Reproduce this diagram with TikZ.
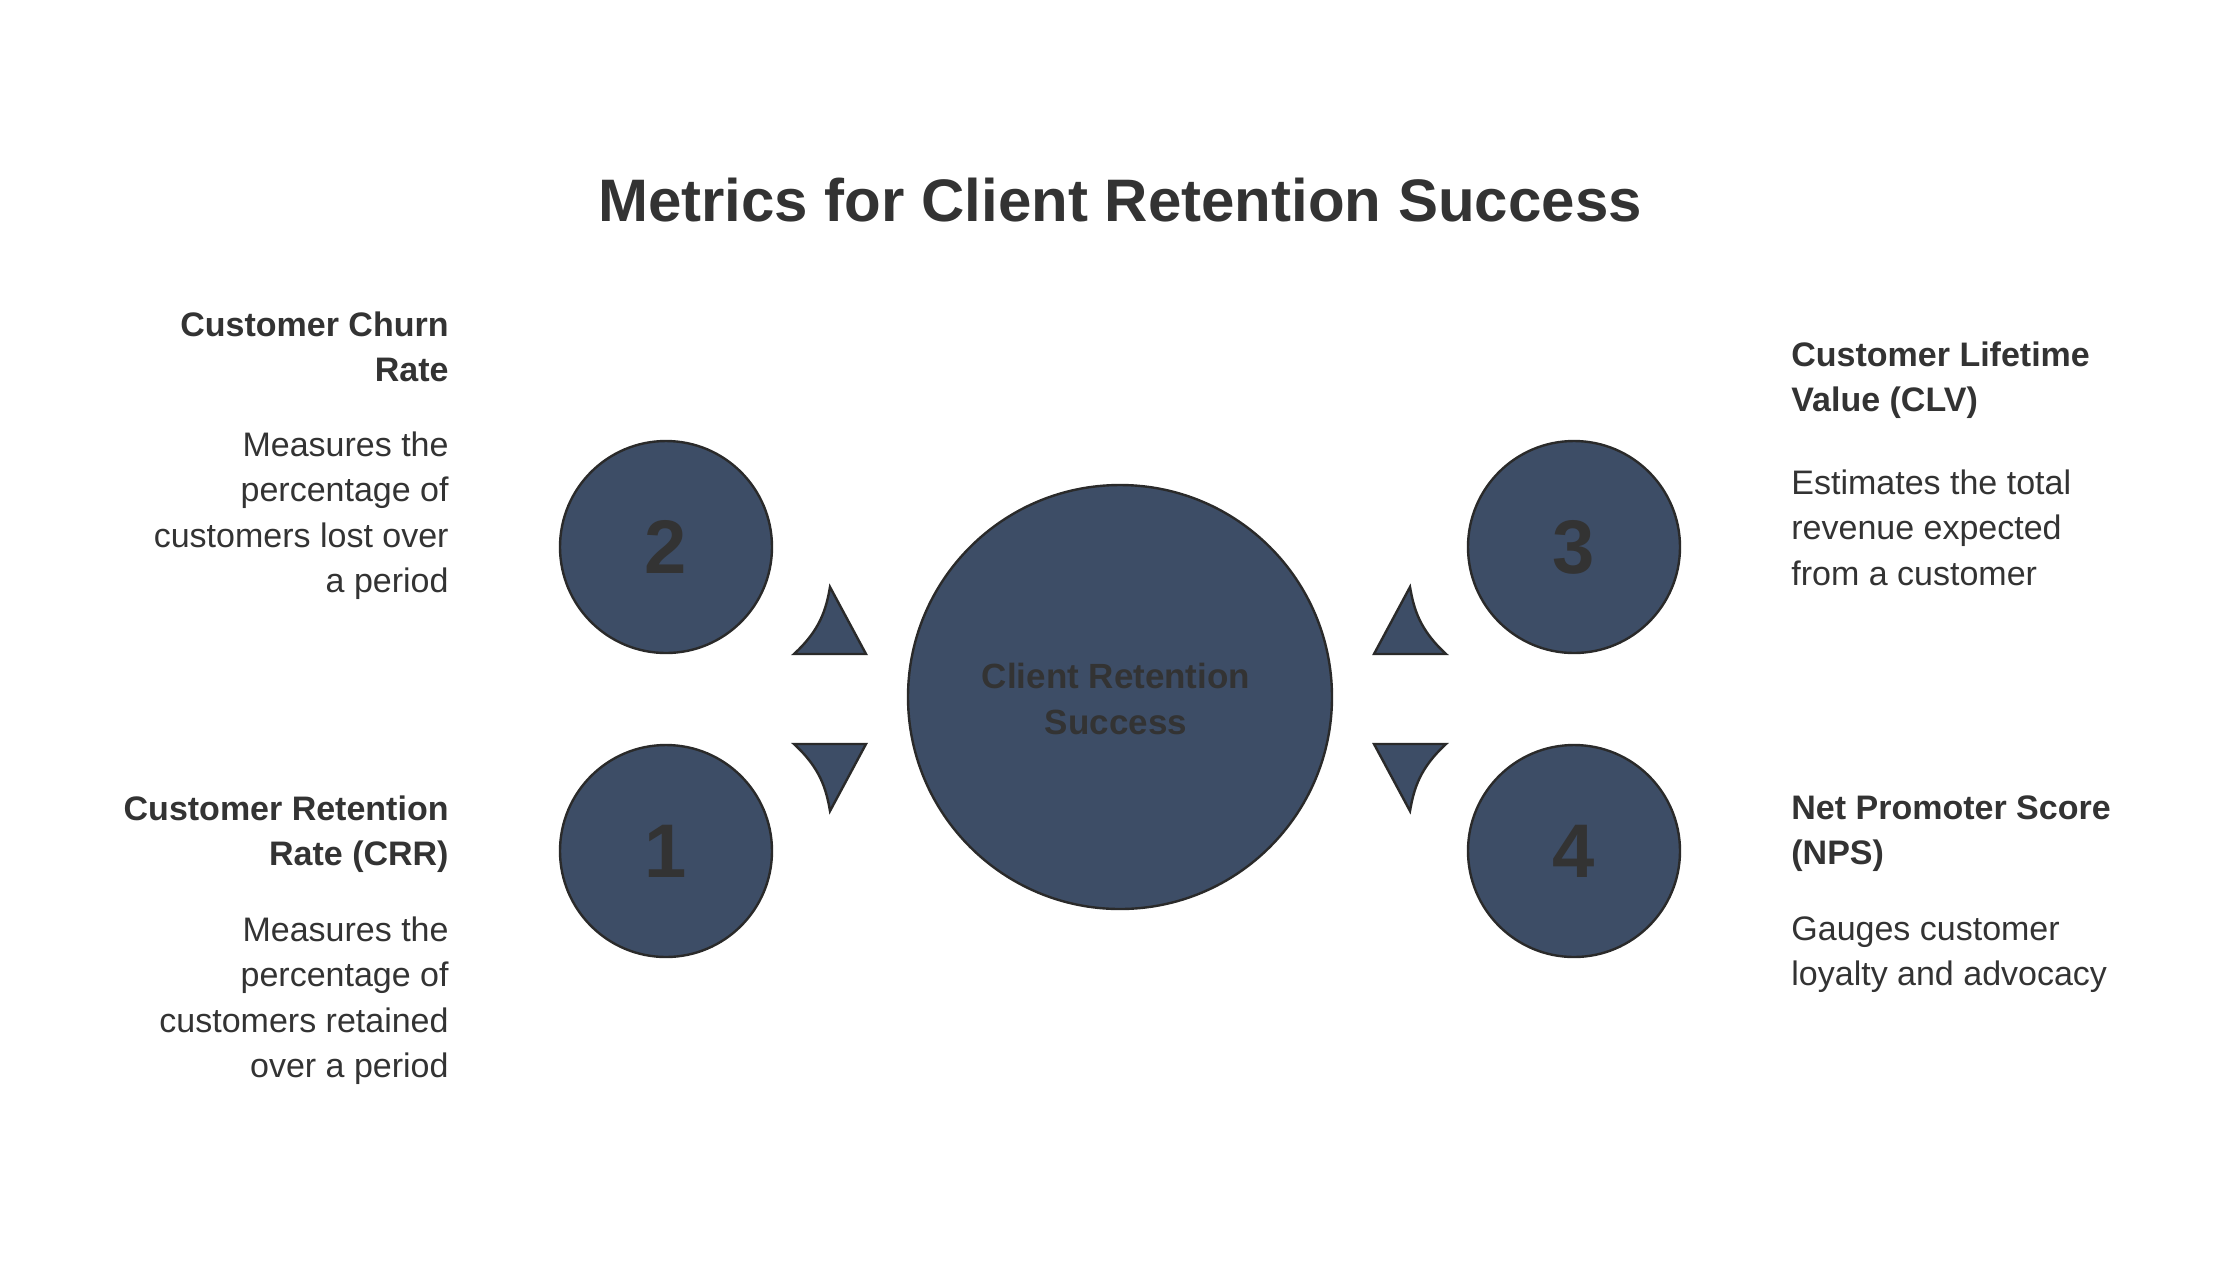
\documentclass[tikz,border=0pt]{standalone}
\usepackage{fontspec}
\setmainfont{Liberation Sans}
\definecolor{fillc}{HTML}{3D4D66}
\definecolor{linec}{HTML}{2A2A2A}
\definecolor{txt}{HTML}{333333}
\begin{document}
\begin{tikzpicture}[x=0.5pt,y=-0.5pt,
  shp/.style={fill=fillc,draw=linec,line width=1.2pt},
  num/.style={font=\fontsize{38}{40}\selectfont\bfseries,text=txt},
  head/.style={font=\fontsize{17}{22.8}\selectfont\bfseries,text=txt,inner sep=0pt},
  desc/.style={font=\fontsize{17}{22.8}\selectfont,text=txt,inner sep=0pt}]
\useasboundingbox (0,0) rectangle (2240,1260);
\node[font=\fontsize{30}{36}\selectfont\bfseries,text=txt] (title) at (1120,200) {Metrics for Client Retention Success};
\node[shp,circle,minimum size=212pt,inner sep=0pt] (c) at (1120,697) {};
\node[font=\fontsize{17.5}{22.8}\selectfont\bfseries,text=txt,align=center] (ct) at (1116,699) {Client Retention\\Success};
\foreach \n/\x/\y in {n2/666/547,n1/666/851,n3/1574/547,n4/1574/851}{
  \node[shp,circle,minimum size=106pt,inner sep=0pt] (\n) at (\x,\y) {};}
\node[num] at (n1) {1};\node[num] at (n2) {2};\node[num] at (n3) {3};\node[num] at (n4) {4};
% triangles
\draw[shp] (794,654) .. controls (820,630) and (826,610) .. (830,587) -- (866,654) -- cycle;
\draw[shp] (794,744) .. controls (820,768) and (826,788) .. (830,811) -- (866,744) -- cycle;
\draw[shp] (1446,654) .. controls (1420,630) and (1414,610) .. (1410,587) -- (1374,654) -- cycle;
\draw[shp] (1446,744) .. controls (1420,768) and (1414,788) .. (1410,811) -- (1374,744) -- cycle;
% left texts
\node[head,align=right,anchor=north east] (h2) at (449,311) {Customer Churn\\Rate};
\node[desc,align=right,anchor=north east] (d2) at (449,431) {Measures the\\percentage of\\customers lost over\\a period};
\node[head,align=right,anchor=north east] (h1) at (449,795) {Customer Retention\\Rate (CRR)};
\node[desc,align=right,anchor=north east] (d1) at (449,916) {Measures the\\percentage of\\customers retained\\over a period};
% right texts
\node[head,align=left,anchor=north west] (h3) at (1791,341) {Customer Lifetime\\Value (CLV)};
\node[desc,align=left,anchor=north west] (d3) at (1791,469) {Estimates the total\\revenue expected\\from a customer};
\node[head,align=left,anchor=north west] (h4) at (1791,795) {Net Promoter Score\\(NPS)};
\node[desc,align=left,anchor=north west] (d4) at (1791,916) {Gauges customer\\loyalty and advocacy};
\end{tikzpicture}
\end{document}
